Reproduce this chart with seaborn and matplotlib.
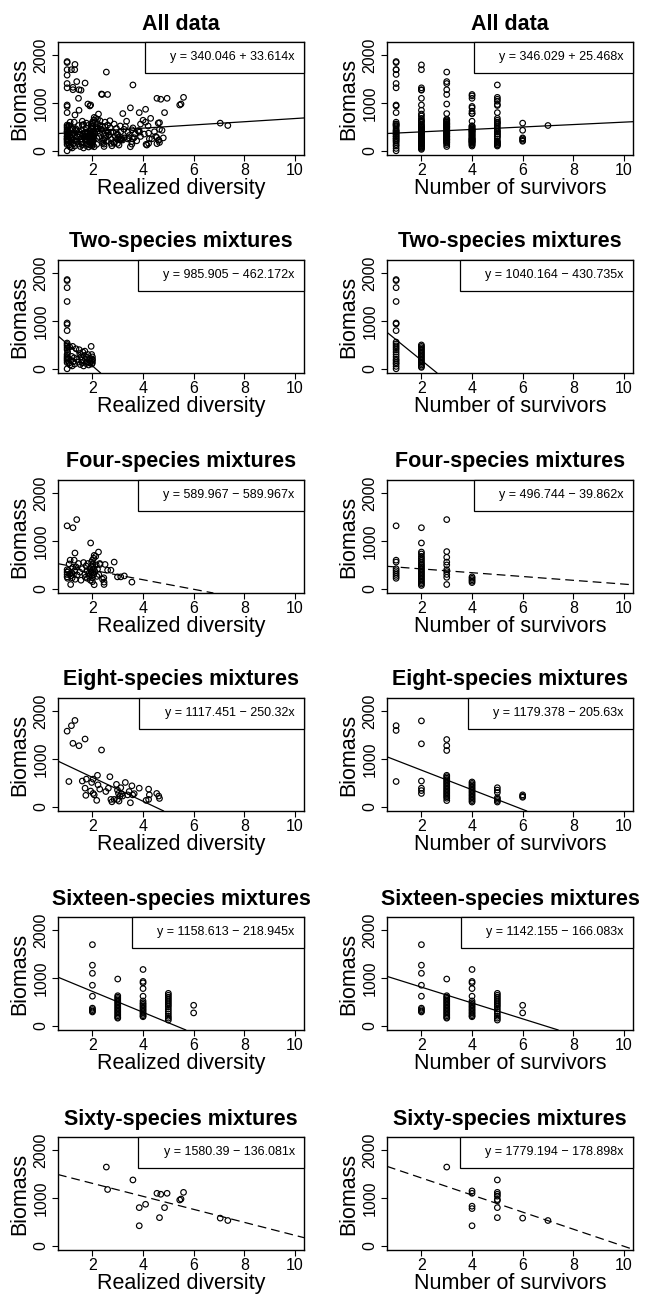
import matplotlib
matplotlib.use("Agg")
import matplotlib.pyplot as plt
from matplotlib.lines import Line2D
import seaborn as sns

# ---- data: (x, biomass) points ----
two_div = [(1.0, 1870), (1.0, 1850), (1.0, 1700), (1.0, 1410), (1.0, 960), (1.0, 930), (1.0, 800),
           (1.0, 540), (1.0, 510), (1.0, 480), (1.0, 440), (1.0, 400), (1.0, 300), (1.0, 260),
           (1.0, 230), (1.0, 200), (1.0, 170), (1.0, 130), (1.0, 0), (1.02, 350), (1.05, 220),
           (1.08, 120), (1.1, 460), (1.12, 80), (1.15, 180), (1.18, 260), (1.2, 60), (1.22, 470),
           (1.25, 150), (1.28, 230), (1.3, 100), (1.35, 420), (1.4, 200), (1.45, 140), (1.48, 400),
           (1.5, 320), (1.52, 90), (1.55, 250), (1.58, 180), (1.6, 130), (1.62, 350), (1.65, 60),
           (1.68, 280), (1.7, 370), (1.72, 200), (1.75, 110), (1.78, 240), (1.8, 150), (1.82, 300),
           (1.85, 80), (1.88, 190), (1.9, 120), (1.92, 220), (1.95, 470), (1.96, 160), (1.98, 100),
           (2.0, 200), (2.0, 250), (2.0, 130), (2.0, 180), (1.97, 300)]
two_surv = [(1, 1870), (1, 1850), (1, 1700), (1, 1410), (1, 960), (1, 940), (1, 800), (1, 560),
            (1, 520), (1, 480), (1, 440), (1, 400), (1, 350), (1, 300), (1, 250), (1, 200),
            (1, 170), (1, 130), (1, 100), (1, 50), (1, 0),
            (2, 500), (2, 470), (2, 440), (2, 410), (2, 380), (2, 350), (2, 320), (2, 290),
            (2, 260), (2, 230), (2, 200), (2, 170), (2, 140), (2, 110), (2, 80), (2, 50), (2, 30)]

four_div = [(1.0, 1320), (1.23, 1280), (1.38, 1450), (1.93, 960), (1.31, 750), (2.24, 770),
            (2.07, 700), (2.13, 680), (2.05, 640), (2.86, 560), (2.5, 510), (2.29, 530), (2.6, 390),
            (2.73, 390), (2.99, 250), (3.12, 250), (3.26, 270), (3.56, 140), (2.46, 140), (2.46, 90),
            (2.07, 85), (1.14, 90), (1.0, 400), (1.0, 350), (1.0, 300), (1.0, 250), (1.02, 220),
            (1.05, 380), (1.08, 520), (1.1, 310), (1.12, 600), (1.15, 270), (1.18, 340), (1.2, 230),
            (1.22, 450), (1.25, 300), (1.28, 600), (1.3, 380), (1.32, 200), (1.35, 460), (1.4, 290),
            (1.45, 530), (1.5, 350), (1.55, 180), (1.6, 420), (1.65, 550), (1.7, 300), (1.72, 240),
            (1.75, 480), (1.78, 380), (1.8, 220), (1.82, 530), (1.85, 320), (1.88, 260), (1.9, 420),
            (1.92, 180), (1.95, 350), (1.97, 560), (1.98, 280), (2.0, 600), (2.0, 470), (2.0, 400),
            (2.0, 330), (2.0, 230), (2.0, 150), (2.02, 520), (2.04, 300), (2.06, 420), (2.1, 360),
            (2.15, 500), (2.18, 260), (2.2, 410), (2.25, 300), (2.3, 510), (2.4, 200), (2.45, 230)]
four_surv = [(1, 1320), (1, 600), (1, 560), (1, 420), (1, 380), (1, 340), (1, 300), (1, 260), (1, 220),
             (2, 1280), (2, 960), (2, 770), (2, 730), (2, 680), (2, 640), (2, 600), (2, 560), (2, 520),
             (2, 490), (2, 460), (2, 430), (2, 400), (2, 370), (2, 340), (2, 310), (2, 280), (2, 250),
             (2, 220), (2, 190), (2, 160), (2, 130), (2, 100), (2, 70),
             (3, 1450), (3, 780), (3, 660), (3, 560), (3, 500), (3, 400), (3, 360), (3, 300), (3, 240),
             (3, 90), (4, 250), (4, 220), (4, 190), (4, 160), (4, 130)]

eight_div = [(1.0, 1585), (1.17, 1700), (1.31, 1810), (1.23, 1330), (1.47, 1280), (1.71, 1420),
             (2.36, 1190), (1.07, 530), (1.6, 540), (1.76, 580), (1.71, 390), (1.74, 240), (1.97, 510),
             (2.03, 580), (2.2, 660), (2.22, 460), (2.29, 370), (2.17, 135), (1.93, 330), (2.03, 280),
             (2.07, 250), (2.69, 630), (2.53, 320), (2.63, 390), (2.73, 155), (2.77, 105), (2.86, 155),
             (2.95, 470), (2.99, 350), (3.03, 280), (3.12, 400), (3.19, 225), (3.3, 510), (3.39, 250),
             (3.45, 320), (3.5, 85), (3.56, 440), (3.59, 250), (3.65, 275), (3.85, 390), (4.12, 135),
             (4.22, 370), (4.25, 250), (4.22, 155), (4.54, 280), (4.65, 175), (4.62, 225), (2.99, 155),
             (3.05, 120), (3.09, 225), (3.15, 275)]
eight_surv = [(1, 1700), (1, 1600), (1, 530), (2, 1800), (2, 1320), (2, 540), (2, 390), (2, 340),
              (2, 280), (3, 1410), (3, 1280), (3, 1180), (3, 660), (3, 630), (3, 600), (3, 570),
              (3, 540), (3, 510), (3, 480), (3, 450), (3, 420), (3, 390), (3, 360), (3, 330), (3, 300),
              (3, 270), (3, 240), (3, 210), (3, 180), (3, 130),
              (4, 520), (4, 490), (4, 460), (4, 430), (4, 400), (4, 370), (4, 340), (4, 310), (4, 280),
              (4, 250), (4, 220), (4, 190), (4, 160), (4, 130), (4, 100),
              (5, 400), (5, 350), (5, 300), (5, 190), (5, 160), (5, 130), (5, 100),
              (6, 250), (6, 220), (6, 200)]

sixteen_div = [(2, 1700), (2, 1270), (2, 1100), (2, 850), (2, 620), (2, 370), (2, 340), (2, 310), (2, 290),
               (3, 980), (3, 630), (3, 600), (3, 570), (3, 540), (3, 510), (3, 480), (3, 450), (3, 420),
               (3, 390), (3, 360), (3, 330), (3, 300), (3, 270), (3, 240), (3, 210), (3, 180), (3, 160),
               (4, 1180), (4, 930), (4, 900), (4, 780), (4, 620), (4, 520), (4, 480), (4, 450), (4, 420),
               (4, 390), (4, 360), (4, 330), (4, 300), (4, 270), (4, 240), (4, 210), (4, 190),
               (5, 680), (5, 640), (5, 600), (5, 560), (5, 520), (5, 480), (5, 440), (5, 400), (5, 350),
               (5, 300), (5, 250), (5, 200), (5, 160), (5, 120), (6, 430), (6, 270)]
sixteen_surv = list(sixteen_div)  # both panels show the same integer columns

# where the sixteen-species plots sit in the "All data" diversity panel
sixteen_div_all = [(1.3, 1700), (1.55, 1270), (1.45, 1100), (1.47, 850), (1.6, 620), (1.8, 370),
                   (1.9, 340), (1.75, 310), (1.65, 290), (1.82, 980), (2.3, 630), (2.5, 600),
                   (2.2, 570), (2.6, 540), (2.4, 510), (2.7, 480), (2.35, 450), (2.55, 420),
                   (2.8, 390), (2.45, 360), (2.65, 330), (2.9, 300), (2.5, 270), (2.75, 240),
                   (2.6, 210), (2.85, 180), (2.4, 160), (2.38, 1180), (1.9, 940), (3.5, 900),
                   (3.2, 780), (3.35, 620), (3.1, 520), (3.6, 480), (3.25, 450), (3.8, 420),
                   (3.4, 390), (3.7, 360), (3.0, 330), (3.9, 300), (3.45, 270), (3.15, 240),
                   (3.75, 210), (3.55, 190), (4.3, 680), (4.0, 640), (4.1, 600), (3.9, 560),
                   (4.2, 520), (4.6, 580), (4.65, 450), (4.45, 400), (4.05, 350), (4.5, 300),
                   (4.35, 250), (4.62, 220), (4.55, 150), (4.15, 120), (4.75, 430), (4.8, 270)]

sixty_div = [(2.55, 1650), (2.6, 1180), (3.6, 1380), (3.85, 800), (3.85, 420), (4.1, 870), (4.55, 1100),
             (4.7, 1080), (4.95, 1100), (4.85, 800), (4.65, 590), (5.45, 960), (5.5, 980), (5.6, 1120),
             (7.05, 580), (7.35, 530)]
sixty_surv = [(3, 1650), (4, 1150), (4, 1100), (4, 830), (4, 780), (4, 420), (5, 1380), (5, 1120),
              (5, 1080), (5, 1040), (5, 970), (5, 950), (5, 800), (5, 590), (6, 580), (7, 530)]

all_div = two_div + four_div + eight_div + sixteen_div_all + sixty_div
all_surv = two_surv + four_surv + eight_surv + sixteen_surv + sixty_surv

titles = ["All data", "Two-species mixtures", "Four-species mixtures", "Eight-species mixtures",
          "Sixteen-species mixtures", "Sixty-species mixtures"]
xlabels = ["Realized diversity", "Number of survivors"]

# fitted lines: intercept, slope (four-species diversity slope)
div_icpt = [340.046, 985.905, 589.967, 1117.451, 1158.613, 1580.39]
div_slope = [33.614, -462.172, -100.0, -250.32, -218.945, -136.081]
surv_icpt = [346.029, 1040.164, 496.744, 1179.378, 1142.155, 1779.194]
surv_slope = [25.468, -430.735, -39.862, -205.63, -166.083, -178.898]
dashed = [False, False, True, False, False, True]

div_labels = ["y = 340.046 + 33.614x", "y = 985.905 \u2212 462.172x", "y = 589.967 \u2212 589.967x",
              "y = 1117.451 \u2212 250.32x", "y = 1158.613 \u2212 218.945x", "y = 1580.39 \u2212 136.081x"]
surv_labels = ["y = 346.029 + 25.468x", "y = 1040.164 \u2212 430.735x", "y = 496.744 \u2212 39.862x",
               "y = 1179.378 \u2212 205.63x", "y = 1142.155 \u2212 166.083x", "y = 1779.194 \u2212 178.898x"]

div_sets = [all_div, two_div, four_div, eight_div, sixteen_div, sixty_div]
surv_sets = [all_surv, two_surv, four_surv, eight_surv, sixteen_surv, sixty_surv]

sns.set_style("white")
plt.rcParams["font.family"] = ["Liberation Sans", "DejaVu Sans"]
plt.rcParams["text.color"] = "black"
plt.rcParams["axes.labelcolor"] = "black"
plt.rcParams["xtick.color"] = "black"
plt.rcParams["ytick.color"] = "black"

W, H = 646, 1294
fig = plt.figure(figsize=(W / 100, H / 100), dpi=100)
row_tops = [42, 260, 480, 698, 917, 1137]
col_lefts = [58, 387]
ax_w, ax_h = 246, 113


def panel(ax, pts, title, xlabel, icpt, slope, label, dash):
    x = [p[0] for p in pts]
    y = [p[1] for p in pts]
    sns.scatterplot(x=x, y=y, ax=ax, s=16, facecolor="none", edgecolor="black",
                    linewidth=0.85, legend=False, zorder=3)
    ax.axline((0, icpt), slope=slope, color="black", lw=0.9,
              ls=(0, (7, 4)) if dash else "-", zorder=2)
    ax.set_xlim(0.64, 10.36)
    ax.set_ylim(-88, 2280)
    ax.set_xticks([2, 4, 6, 8, 10])
    ax.set_yticks([0, 1000, 2000])
    ax.set_yticklabels(["0", "1000", "2000"], rotation=90, va="center")
    ax.tick_params(axis="both", direction="out", length=4, width=0.8, color="black",
                   labelsize=11.5, labelcolor="black", left=True, bottom=True, pad=2)
    ax.tick_params(axis="y", pad=3)
    for sp in ax.spines.values():
        sp.set_color("black")
        sp.set_linewidth(1.0)
    ax.set_title(title, fontsize=15.5, fontweight="bold", pad=9, color="black")
    ax.set_xlabel(xlabel, fontsize=15.5, labelpad=0, color="black")
    ax.set_ylabel("Biomass", fontsize=15.5, labelpad=2, color="black")
    h = Line2D([], [], linestyle="none")
    leg = ax.legend([h], [label], loc="upper right", borderaxespad=0, fontsize=9.0,
                    handlelength=0.9, handletextpad=0.4, borderpad=0.75, fancybox=False,
                    framealpha=1, edgecolor="black", labelcolor="black")
    leg.get_frame().set_linewidth(0.9)


for r in range(6):
    for c in range(2):
        left = col_lefts[c] / W
        bottom = 1 - (row_tops[r] + ax_h) / H
        ax = fig.add_axes([left, bottom, ax_w / W, ax_h / H])
        if c == 0:
            panel(ax, div_sets[r], titles[r], xlabels[0], div_icpt[r], div_slope[r],
                  div_labels[r], dashed[r])
        else:
            panel(ax, surv_sets[r], titles[r], xlabels[1], surv_icpt[r], surv_slope[r],
                  surv_labels[r], dashed[r])

fig.savefig("out.png", dpi=100)
